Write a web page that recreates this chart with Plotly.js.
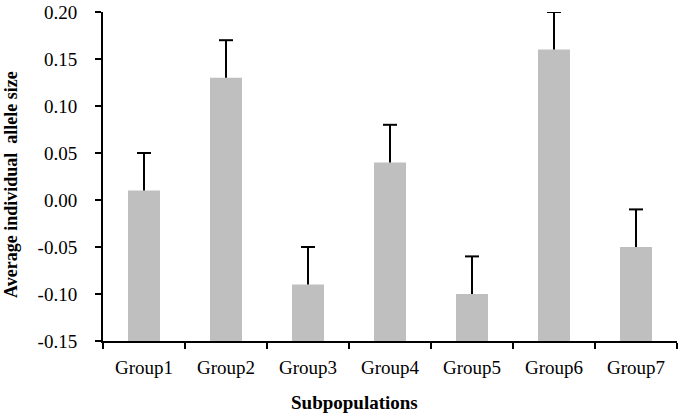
<!DOCTYPE html>
<html>
<head>
<meta charset="utf-8">
<script src="https://cdn.plot.ly/plotly-3.0.1.min.js"></script>
<style>
html,body{margin:0;padding:0;background:#fff;}
#chart{width:680px;height:418px;}
</style>
</head>
<body>
<div id="chart"></div>
<script>
var categories = ["Group1","Group2","Group3","Group4","Group5","Group6","Group7"];
var values = [0.01, 0.13, -0.09, 0.04, -0.10, 0.16, -0.05];
var errors = [0.04, 0.04, 0.04, 0.04, 0.04, 0.04, 0.04];
var axisBase = -0.15;
var yTickVals = [-0.15, -0.10, -0.05, 0.00, 0.05, 0.10, 0.15, 0.20];
var yTickText = ["-0.15","-0.10","-0.05","0.00","0.05","0.10","0.15","0.20"];
var xTitle = "Subpopulations";
var yTitle = "Average individual  allele size";

var barLengths = values.map(function(v){ return v - axisBase; });
var zeros = values.map(function(){ return 0; });
var capY = values.map(function(v, i){ return v + errors[i]; });

var font = "Liberation Serif, Times New Roman, serif";

var traces = [
  {
    type: "bar",
    x: categories,
    y: barLengths,
    base: axisBase,
    width: 0.39,
    marker: {color: "#BFBFBF", line: {width: 0}},
    error_y: {
      type: "data",
      symmetric: false,
      array: errors,
      arrayminus: zeros,
      color: "#000000",
      thickness: 2,
      width: 0
    },
    hoverinfo: "skip"
  },
  {
    type: "scatter",
    mode: "markers",
    x: categories,
    y: capY,
    marker: {symbol: "line-ew", size: 10, color: "#000000", line: {color: "#000000", width: 2}},
    hoverinfo: "skip"
  }
];

var layout = {
  width: 680,
  height: 418,
  margin: {l: 103, r: 3, t: 12, b: 77},
  paper_bgcolor: "#ffffff",
  plot_bgcolor: "#ffffff",
  showlegend: false,
  bargap: 0.61,
  font: {family: font, size: 19, color: "#000000"},
  xaxis: {
    type: "category",
    range: [-0.5, 6.5],
    showline: true,
    linecolor: "#000000",
    linewidth: 2,
    ticks: "outside",
    tickson: "boundaries",
    ticklen: 6,
    tickwidth: 2,
    tickcolor: "#000000",
    ticklabelstandoff: 8,
    showgrid: false,
    zeroline: false,
    tickfont: {family: font, size: 19, color: "#000000"},
    fixedrange: true
  },
  yaxis: {
    range: [-0.15, 0.20],
    tickmode: "array",
    tickvals: yTickVals,
    ticktext: yTickText,
    showline: true,
    linecolor: "#000000",
    linewidth: 2,
    ticks: "outside",
    ticklen: 6,
    tickwidth: 2,
    tickcolor: "#000000",
    ticklabelstandoff: 14,
    showgrid: false,
    zeroline: false,
    tickfont: {family: font, size: 19, color: "#000000"},
    fixedrange: true
  },
  annotations: [
    {
      text: "<b>" + xTitle + "</b>",
      xref: "paper", yref: "paper",
      x: 0.439, y: -0.188,
      xanchor: "center", yanchor: "middle",
      showarrow: false,
      font: {family: font, size: 19, color: "#000000"}
    },
    {
      text: "<b>" + yTitle.replace("  ", "&nbsp; ") + "</b>",
      xref: "paper", yref: "paper",
      x: -0.160, y: 0.475,
      xanchor: "center", yanchor: "middle",
      textangle: -90,
      showarrow: false,
      font: {family: font, size: 18, color: "#000000"}
    }
  ]
};

Plotly.newPlot("chart", traces, layout, {displayModeBar: false, staticPlot: true});
</script>
</body>
</html>
